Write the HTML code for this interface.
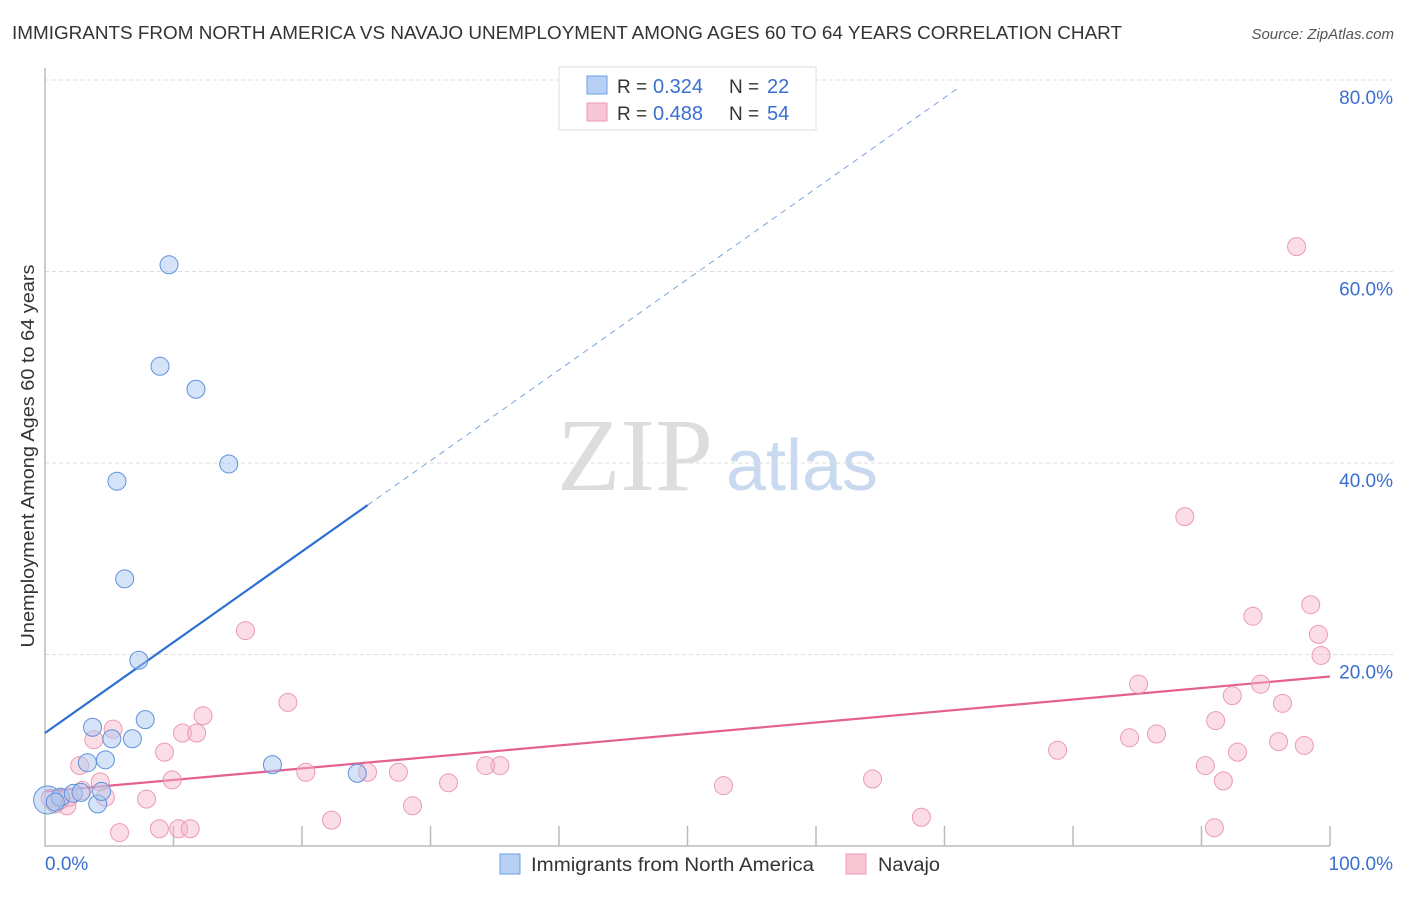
<!DOCTYPE html>
<html><head><meta charset="utf-8"><style>
body{margin:0;background:#fff;font-family:"Liberation Sans",sans-serif;}
</style></head><body>
<svg id="chart" width="1406" height="892" xmlns="http://www.w3.org/2000/svg" font-family="Liberation Sans, sans-serif">
<text x="12" y="39" font-size="18" fill="#333" textLength="1110" lengthAdjust="spacingAndGlyphs">IMMIGRANTS FROM NORTH AMERICA VS NAVAJO UNEMPLOYMENT AMONG AGES 60 TO 64 YEARS CORRELATION CHART</text>
<text x="1394" y="39" font-size="15" fill="#555" font-style="italic" text-anchor="end">Source: ZipAtlas.com</text>
<g>
<text x="635" y="490" font-size="104" fill="#ddd" font-family="Liberation Serif, serif" text-anchor="middle">ZIP</text>
<text x="802" y="490" font-size="72" fill="#c9d9ef" text-anchor="middle">atlas</text>
</g>
<g id="grid"></g>
<g id="axes"></g>
<g id="lines"></g>
<g id="points"></g>
<text transform="translate(34,456) rotate(-90)" font-size="18" fill="#333" text-anchor="middle" textLength="383" lengthAdjust="spacingAndGlyphs">Unemployment Among Ages 60 to 64 years</text>
<g>
<rect x="559" y="67" width="257" height="63" fill="#fff" stroke="#ddd"/>
<rect x="587" y="76" width="20" height="18" fill="#b6d1f3" stroke="#6e9fe0"/>
<text x="617" y="93" font-size="19" fill="#333">R =</text>
<text x="653" y="93" font-size="20" fill="#3a6fd0">0.324</text>
<text x="729" y="93" font-size="19" fill="#333">N =</text>
<text x="767" y="93" font-size="20" fill="#3a6fd0">22</text>
<rect x="587" y="103" width="20" height="18" fill="#f9c6d6" stroke="#e99ab4"/>
<text x="617" y="120" font-size="19" fill="#333">R =</text>
<text x="653" y="120" font-size="20" fill="#3a6fd0">0.488</text>
<text x="729" y="120" font-size="19" fill="#333">N =</text>
<text x="767" y="120" font-size="20" fill="#3a6fd0">54</text>
</g>
<g>
<rect x="500" y="854" width="20" height="20" fill="#b6d1f3" stroke="#6e9fe0"/>
<text x="531" y="871" font-size="19" fill="#333" textLength="283" lengthAdjust="spacingAndGlyphs">Immigrants from North America</text>
<rect x="846" y="854" width="20" height="20" fill="#f9c6d6" stroke="#e99ab4"/>
<text x="878" y="871" font-size="19" fill="#333" textLength="62" lengthAdjust="spacingAndGlyphs">Navajo</text>
</g>
</svg>
<script>
const yTicks=[20,40,60,80];
const yTickLabels=["20.0%","40.0%","60.0%","80.0%"];
const xTicks=[0,10,20,30,40,50,60,70,80,90,100];
const blueX=[9.65,8.95,11.75,14.3,5.6,6.2,7.3,7.8,3.7,5.2,6.8,4.7,3.3,17.7,24.3,4.1,0.2,1.2,2.2,2.8,4.4,0.8];
const blueY=[60.7,50.1,47.7,39.9,38.1,27.9,19.4,13.2,12.4,11.2,11.2,9.0,8.7,8.5,7.6,4.4,4.8,5.1,5.5,5.6,5.7,4.6];
const pinkX=[97.4,88.7,98.5,94.0,99.1,99.3,85.1,94.6,92.4,96.3,91.1,86.5,84.4,96.0,98.0,78.8,92.8,90.3,91.7,91.0,68.2,64.4,52.8,31.4,35.4,34.3,28.6,27.5,25.1,20.3,22.3,15.6,18.9,12.3,10.7,11.8,9.3,5.3,3.8,2.7,9.9,7.9,4.3,4.7,5.8,8.9,10.4,11.3,2.9,1.7,0.8,0.4,1.2,1.9];
const pinkY=[62.6,34.4,25.2,24.0,22.1,19.9,16.9,16.9,15.7,14.9,13.1,11.7,11.3,10.9,10.5,10.0,9.8,8.4,6.8,1.9,3.0,7.0,6.3,6.6,8.4,8.4,4.2,7.7,7.7,7.7,2.7,22.5,15.0,13.6,11.8,11.8,9.8,12.2,11.1,8.4,6.9,4.9,6.7,5.1,1.4,1.8,1.8,1.8,5.8,4.2,4.4,5.0,4.8,5.1];
const blueTrend=[11.8,0.948];
const pinkTrend=[5.7,0.12];
const NS="http://www.w3.org/2000/svg";
const X=v=>45+v*12.85, Y=v=>846-v*9.575;
function mk(p,t,a){const e=document.createElementNS(NS,t);for(const k in a)e.setAttribute(k,a[k]);document.getElementById(p).appendChild(e);return e;}
yTicks.forEach((t,i)=>{
 const g=mk('grid','line',{x1:45,x2:1394,y1:Y(t),y2:Y(t),stroke:'#ddd','stroke-dasharray':'4,3'});
 
 
 const l=mk('grid','text',{x:1393,y:Y(t)+24,'font-size':19,fill:'#3a6fd0','text-anchor':'end'});
 l.textContent=yTickLabels[i];
 
 
});
const ax=mk('axes','path',{d:`M45,68V846H1330`,stroke:'#bbb',fill:'none','stroke-width':1.5});


xTicks.slice(1).forEach(t=>{
 const k=mk('axes','line',{x1:X(t),x2:X(t),y1:826,y2:846,stroke:'#bbb','stroke-width':1.5});
 
 
});
let t0=mk('axes','text',{x:45,y:870,'font-size':19,fill:'#3a6fd0'});t0.textContent='0.0%';


let t1=mk('axes','text',{x:1393,y:870,'font-size':19,fill:'#3a6fd0','text-anchor':'end'});t1.textContent='100.0%';


const bt=v=>blueTrend[0]+blueTrend[1]*v, pt=v=>pinkTrend[0]+pinkTrend[1]*v;
let l1=mk('lines','line',{x1:X(0),y1:Y(bt(0)),x2:X(25.1),y2:Y(bt(25.1)),stroke:'#2f6fd3','stroke-width':2.2});


let l2=mk('lines','line',{x1:X(25.1),y1:Y(bt(25.1)),x2:X(71.2),y2:Y(bt(71.2)),stroke:'#7aa3e0','stroke-width':1,'stroke-dasharray':'6,5'});


let l3=mk('lines','line',{x1:X(0),y1:Y(pt(0)),x2:X(100),y2:Y(pt(100)),stroke:'#e4608f','stroke-width':2.2});


pinkX.forEach((x,i)=>{
 const c=mk('points','circle',{cx:X(x),cy:Y(pinkY[i]),r:9,fill:'rgba(247,180,200,0.45)',stroke:'#eb9ab5','stroke-width':1});
 
 
});
blueX.forEach((x,i)=>{
 const c=mk('points','circle',{cx:X(x),cy:Y(blueY[i]),r:i==16?14:9,fill:'rgba(170,200,240,0.5)',stroke:'#5f92db','stroke-width':1});
 
 
});
</script>
</body></html>
